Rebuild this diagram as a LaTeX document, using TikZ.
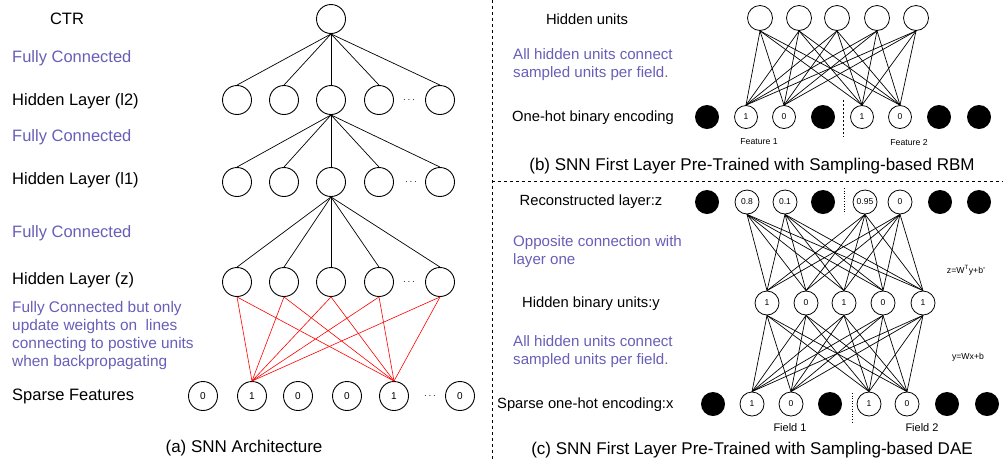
\documentclass[tikz,border=0pt]{standalone}
\usepackage{fontspec}
\setmainfont{Liberation Sans}
\definecolor{purp}{RGB}{104,94,184}
\begin{document}
\begin{tikzpicture}[x=1pt,y=-1pt,
  lbl/.style={font=\fontsize{16.5}{18}\selectfont, inner sep=0pt},
  plbl/.style={lbl, text=purp, align=left},
  rlbl/.style={font=\fontsize{14.75}{18}\selectfont, inner sep=0pt},
  rplbl/.style={font=\fontsize{15.1}{18}\selectfont, inner sep=0pt, text=purp, align=left},
  captxt/.style={font=\fontsize{17}{19}\selectfont, inner sep=0pt},
  tiny/.style={font=\fontsize{8.7}{10}\selectfont, inner sep=0pt},
  big/.style={circle, draw, line width=0.9pt, minimum size=29pt, inner sep=0pt, font=\fontsize{10}{12}\selectfont},
  med/.style={circle, draw, line width=0.8pt, minimum size=24pt, inner sep=0pt, font=\fontsize{8.5}{10}\selectfont},
  blk/.style={circle, fill=black, minimum size=24pt, inner sep=0pt},
  edge/.style={line width=0.7pt},
  redge/.style={red, line width=0.6pt},
  dotsn/.style={font=\fontsize{10}{12}\selectfont, inner sep=0pt},
  sep/.style={line width=0.7pt, dash pattern=on 3pt off 3pt}
]
\useasboundingbox (0,0) rectangle (1003,459);

% panel separators
\draw[sep] (492,0) -- (492,459);
\draw[sep] (492,181) -- (1003,181);

% ---------- (a) ----------
\node[lbl] (tctr) at (67,19) {CTR};
\node[plbl, anchor=west] (fc1) at (12,58) {Fully Connected};
\node[lbl, anchor=west] (tl2) at (12,101) {Hidden Layer (l2)};
\node[plbl, anchor=west] (fc2) at (12,137) {Fully Connected};
\node[lbl, anchor=west] (tl1) at (12,180) {Hidden Layer (l1)};
\node[plbl, anchor=west] (fc3) at (12,233) {Fully Connected};
\node[lbl, anchor=west] (tz) at (12,280) {Hidden Layer (z)};
\node[plbl, font=\fontsize{15.4}{18}\selectfont, anchor=west] (fc4) at (12,336) {Fully Connected but only\\update weights on\ \ lines\\connecting to postive units\\when backpropagating};
\node[lbl, anchor=west] (tsp) at (12,396) {Sparse Features};
\node[captxt] (capa) at (244,448) {(a) SNN Architecture};

\node[big] (ctr) at (331,19) {};
\foreach \x [count=\i] in {237,284,331,379,440} {
  \node[big] (la\i) at (\x,100) {};
  \node[big] (lb\i) at (\x,182) {};
  \node[big] (lz\i) at (\x,282) {};
}
\node[dotsn] (da1) at (409,100) {$\cdots$};
\node[dotsn] (da2) at (411,182) {$\cdots$};
\node[dotsn] (da3) at (409,282) {$\cdots$};
\foreach \x/\v [count=\i] in {203/0,252/1,298/0,347/0,394/1,460/0} {
  \node[big] (sp\i) at (\x,396) {\v};
}
\node[dotsn] (da4) at (430,396) {$\cdots$};

\foreach \i in {1,...,5} {
  \draw[edge] (ctr.south) -- (la\i.north);
  \draw[edge] (la3.south) -- (lb\i.north);
  \draw[edge] (lb3.south) -- (lz\i.north);
  \draw[redge] (lz\i.south) -- (sp2.north);
  \draw[redge] (lz\i.south) -- (sp5.north);
}

% ---------- (b) ----------
\node[rlbl] (thu) at (587,19) {Hidden units};
\node[rplbl, anchor=west] (pb) at (513,65) {All hidden units connect\\sampled units per field.};
\node[rlbl, anchor=west] (tob) at (512,118) {One-hot binary encoding};
\node[captxt] (capb) at (752,166) {(b) SNN First Layer Pre-Trained with Sampling-based RBM};

\foreach \x [count=\i] in {760,799,837,877,916} {
  \node[med, minimum size=25pt] (bh\i) at (\x,18) {};
}
\node[blk] (bf1) at (707,117) {};
\node[med, minimum size=23pt] (bv1) at (746,117) {1};
\node[med, minimum size=23pt] (bv2) at (784,117) {0};
\node[blk] (bf2) at (823,117) {};
\node[med, minimum size=23pt] (bv3) at (862,117) {1};
\node[med, minimum size=23pt] (bv4) at (900,117) {0};
\node[blk] (bf3) at (939,117) {};
\node[blk] (bf4) at (979,117) {};
\coordinate (bs1) at (843,100);
\coordinate (bs2) at (843,137);
\draw[line width=0.6pt, dash pattern=on 2pt off 2pt] (bs1) -- (bs2);
\node[tiny] (feat1) at (759,142) {Feature 1};
\node[tiny] (feat2) at (909,142) {Feature 2};
\foreach \i in {1,...,5} {
  \foreach \j in {1,...,4} {
    \draw[edge] (bh\i.south) -- (bv\j.north);
  }
}

% ---------- (c) ----------
\node[rlbl] (trec) at (591,202) {Reconstructed layer:z};
\node[rplbl, anchor=west] (pc1) at (513,252) {Opposite connection with\\layer one};
\node[tiny] (eqz) at (966,270) {z=W\textsuperscript{T}y+b'};
\node[rlbl] (thb) at (591,304) {Hidden binary units:y};
\node[rplbl, anchor=west] (pc2) at (513,352) {All hidden units connect\\sampled units per field.};
\node[tiny] (eqy) at (968,357) {y=Wx+b};
\node[rlbl, anchor=west] (tsx) at (497,405) {Sparse one-hot encoding:x};
\node[tiny, font=\fontsize{11}{13}\selectfont] (fld1) at (790,428) {Field 1};
\node[tiny, font=\fontsize{11}{13}\selectfont] (fld2) at (922,428) {Field 2};
\node[captxt] (capc) at (752,450) {(c) SNN First Layer Pre-Trained with Sampling-based DAE};

\node[blk] (cf1) at (707,202) {};
\node[med] (ct1) at (747,202) {0.8};
\node[med] (ct2) at (785,202) {0.1};
\node[blk] (cf2) at (823,202) {};
\node[med] (ct3) at (865,202) {0.95};
\node[med] (ct4) at (900,202) {0};
\node[blk] (cf3) at (940,202) {};
\node[blk] (cf4) at (979,202) {};
\coordinate (cs1) at (844,188);
\coordinate (cs2) at (844,214);
\draw[line width=0.6pt, dotted] (cs1) -- (cs2);

\foreach \x/\v [count=\i] in {767/1,806/0,844/1,883/0,923/1} {
  \node[med] (ch\i) at (\x,303) {\v};
}

\node[blk] (cf5) at (713,404) {};
\node[med] (cb1) at (752,404) {1};
\node[med] (cb2) at (791,404) {0};
\node[blk] (cf6) at (830,404) {};
\node[med] (cb3) at (869,404) {1};
\node[med] (cb4) at (907,404) {0};
\node[blk] (cf7) at (947,404) {};
\node[blk] (cf8) at (987,404) {};
\coordinate (cs3) at (852,393);
\coordinate (cs4) at (852,423);
\draw[line width=0.6pt, dotted] (cs3) -- (cs4);

\foreach \i in {1,...,5} {
  \foreach \j in {1,...,4} {
    \draw[edge] (ct\j.south) -- (ch\i.north);
    \draw[edge] (ch\i.south) -- (cb\j.north);
  }
}
\end{tikzpicture}
\end{document}
